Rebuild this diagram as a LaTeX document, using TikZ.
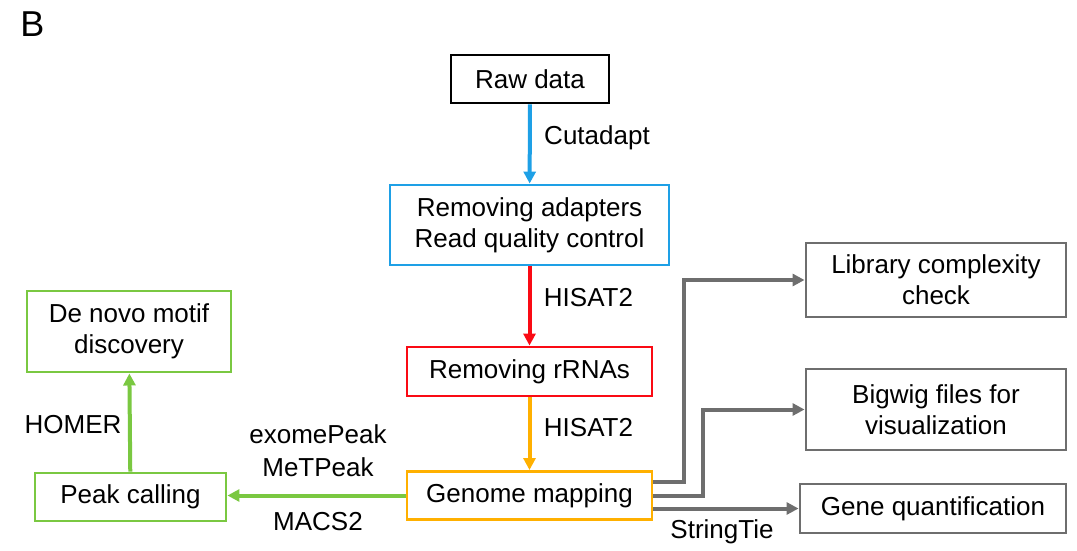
\documentclass[tikz,border=0pt]{standalone}
\usepackage{fontspec}
\setmainfont{Liberation Sans}
\usetikzlibrary{arrows.meta,calc}
\definecolor{cblue}{RGB}{30,160,230}
\definecolor{cred}{RGB}{250,10,20}
\definecolor{corange}{RGB}{255,176,0}
\definecolor{cgreen}{RGB}{122,200,65}
\definecolor{cgray}{RGB}{110,110,110}
\tikzset{
  box/.style={draw, line width=2.2pt, inner sep=0pt, align=center,
    font=\fontsize{19.5pt}{23.25pt}\selectfont},
  lbl/.style={inner sep=0pt, align=center, font=\fontsize{19.5pt}{24.5pt}\selectfont},
  arr/.style={line width=3pt, -{Triangle[length=9pt,width=9pt]}},
}
\begin{document}
\begin{tikzpicture}[x=0.75pt,y=-0.75pt]
\useasboundingbox (0,0) rectangle (1077,550);
\node[inner sep=0pt, font=\fontsize{27pt}{30pt}\selectfont] (B) at (32.5,24) {B};

\node[box, draw=black, minimum width={158*0.75pt}, minimum height={48*0.75pt}] (raw) at (530,79) {Raw data};
\node[box, draw=cblue, minimum width={279*0.75pt}, minimum height={80*0.75pt}] (rem) at (529.5,225) {Removing adapters\\Read quality control};
\node[box, draw=cred, minimum width={245*0.75pt}, minimum height={49*0.75pt}] (rrna) at (529.5,371.5) {Removing rRNAs};
\node[box, draw=corange, minimum width={245*0.75pt}, minimum height={48*0.75pt}] (gm) at (529.5,495.5) {Genome mapping};
\node[box, draw=cgreen, minimum width={191*0.75pt}, minimum height={48*0.75pt}] (pc) at (130.5,497) {Peak calling};
\node[box, draw=cgreen, minimum width={204*0.75pt}, minimum height={81*0.75pt}] (dn) at (129,331.5) {De novo motif\\discovery};
\node[box, draw=cgray, minimum width={260*0.75pt}, minimum height={74*0.75pt}] (lib) at (936,280) {Library complexity\\check};
\node[box, draw=cgray, minimum width={260*0.75pt}, minimum height={81*0.75pt}] (bw) at (936,409.5) {Bigwig files for\\visualization};
\node[box, draw=cgray, minimum width={266*0.75pt}, minimum height={49*0.75pt}] (gq) at (933,508.5) {Gene quantification};

\draw[arr, cblue] (raw) -- (rem);
\draw[arr, cred] (rem) -- (rrna);
\draw[arr, corange] (rrna) -- (gm);
\draw[arr, cgreen] (gm.west) -- (pc.east |- gm.west);
\draw[arr, cgreen] (pc) -- (dn);
\draw[arr, cgray] ($(gm.east)+(0,-13.5)$) -- ++(31,0) |- (lib.west);
\draw[arr, cgray] (gm.east) -- ++(50,0) |- (bw.west);
\draw[arr, cgray] ($(gm.east)+(0,13)$) -- (gq.west);

\node[lbl] (l1) at (597,138) {Cutadapt};
\node[lbl] (l2) at (588.5,298) {HISAT2};
\node[lbl] (l3) at (588.5,428) {HISAT2};
\node[lbl] (l4) at (73,425) {HOMER};
\node[lbl] (l5) at (318,450.5) {exomePeak\\MeTPeak};
\node[lbl] (l6) at (318,522) {MACS2};
\node[lbl] (l7) at (722,532) {StringTie};
\end{tikzpicture}
\end{document}
